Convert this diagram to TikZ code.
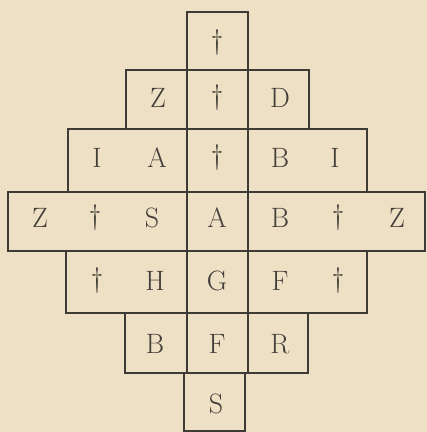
\documentclass[tikz,border=0pt]{standalone}
\usepackage{fontspec}
\definecolor{paper}{HTML}{EEE0C4}
\definecolor{ink}{HTML}{3E3A35}
\definecolor{letter}{HTML}{433E39}
\begin{document}
\begin{tikzpicture}[x=1pt,y=-1pt,
  cell/.style={draw=ink,line width=1.8pt,inner sep=0pt,outer sep=0pt},
  ch/.style={text=letter,inner sep=0pt,font=\fontsize{28}{32}\selectfont}]
\fill[paper] (0,0) rectangle (427,432);
\useasboundingbox (0,0) rectangle (427,432);
% row 1
\node[cell,minimum width=61pt,minimum height=58pt] (r1c) at (217.5,41) {};
% row 2
\node[cell,minimum width=61pt,minimum height=59pt] (r2l) at (156.5,99.5) {};
\node[cell,minimum width=61pt,minimum height=59pt] (r2c) at (217.5,99.5) {};
\node[cell,minimum width=61pt,minimum height=59pt] (r2r) at (278.5,99.5) {};
% row 3
\node[cell,minimum width=119pt,minimum height=63pt] (r3l) at (127.5,160.5) {};
\node[cell,minimum width=61pt,minimum height=63pt] (r3c) at (217.5,160.5) {};
\node[cell,minimum width=119pt,minimum height=63pt] (r3r) at (307.5,160.5) {};
% row 4
\node[cell,minimum width=179pt,minimum height=59pt] (r4l) at (97.5,221.5) {};
\node[cell,minimum width=61pt,minimum height=59pt] (r4c) at (217.5,221.5) {};
\node[cell,minimum width=177pt,minimum height=59pt] (r4r) at (336.5,221.5) {};
% row 5
\node[cell,minimum width=121pt,minimum height=62pt] (r5l) at (126.5,282) {};
\node[cell,minimum width=61pt,minimum height=62pt] (r5c) at (217.5,282) {};
\node[cell,minimum width=119pt,minimum height=62pt] (r5r) at (307.5,282) {};
% row 6
\node[cell,minimum width=62pt,minimum height=60pt] (r6l) at (156,343) {};
\node[cell,minimum width=61pt,minimum height=60pt] (r6c) at (217.5,343) {};
\node[cell,minimum width=60pt,minimum height=60pt] (r6r) at (278,343) {};
% row 7
\node[cell,minimum width=61pt,minimum height=58pt] (r7c) at (214.5,402) {};
% letters
\node[ch] (t1) at (217,43) {\dag};
\node[ch] (t2a) at (158,98) {Z};
\node[ch] (t2b) at (217,98) {\dag};
\node[ch] (t2c) at (280,98) {D};
\node[ch] (t3a) at (97,158) {I};
\node[ch] (t3b) at (157,158) {A};
\node[ch] (t3c) at (217,158) {\dag};
\node[ch] (t3d) at (280,158) {B};
\node[ch] (t3e) at (335,158) {I};
\node[ch] (t4a) at (40,218) {Z};
\node[ch] (t4b) at (95,218) {\dag};
\node[ch] (t4c) at (152,218) {S};
\node[ch] (t4d) at (217,218) {A};
\node[ch] (t4e) at (280,218) {B};
\node[ch] (t4f) at (338,218) {\dag};
\node[ch] (t4g) at (397,218) {Z};
\node[ch] (t5a) at (97,281) {\dag};
\node[ch] (t5b) at (155,281) {H};
\node[ch] (t5c) at (217,281) {G};
\node[ch] (t5d) at (280,281) {F};
\node[ch] (t5e) at (338,281) {\dag};
\node[ch] (t6a) at (155,344) {B};
\node[ch] (t6b) at (217,344) {F};
\node[ch] (t6c) at (280,344) {R};
\node[ch] (t7) at (216,404) {S};
\end{tikzpicture}
\end{document}
